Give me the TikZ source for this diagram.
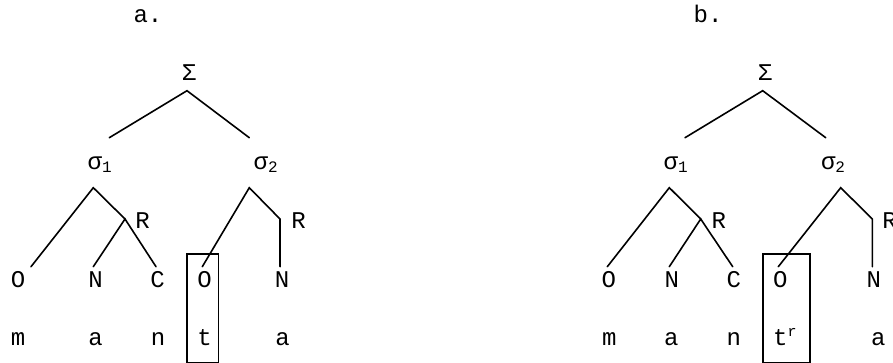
\documentclass[tikz,border=0pt]{standalone}
\usepackage{fontspec}
\setmainfont{Liberation Mono}
\newcommand{\mysub}[1]{\raisebox{-3pt}{\fontsize{16}{16}\selectfont #1}}
\newcommand{\mysup}[1]{\raisebox{9pt}{\fontsize{15}{15}\selectfont #1}}
\begin{document}
\begin{tikzpicture}[x=1pt,y=-1pt,
  lbl/.style={inner sep=0pt, anchor=base, font=\fontsize{24}{28}\selectfont},
  lblw/.style={lbl, anchor=base west},
  edge/.style={line width=1.6pt, line cap=round},
  hbox/.style={line width=1.6pt}]
\useasboundingbox (0,0) rectangle (893,363);
% ---------------- panel a ----------------
\node[lbl] (ta) at (148,23) {a.};
\node[lbl] (Sa) at (189,81) {Σ};
\node[lblw] (s1a) at (87.5,170) {σ\mysub{1}};
\node[lblw] (s2a) at (253.5,170) {σ\mysub{2}};
\node[lbl] (R1a) at (142.5,229) {R};
\node[lbl] (R2a) at (298.5,229) {R};
\node[lbl] (O1a) at (18,287) {O};
\node[lbl] (N1a) at (95.5,287) {N};
\node[lbl] (C1a) at (157.5,287) {C};
\node[lbl] (O2a) at (204.5,287) {O};
\node[lbl] (N2a) at (282,287) {N};
\node[lbl] (ma) at (18,345) {m};
\node[lbl] (a1a) at (95.5,345) {a};
\node[lbl] (na) at (158,345) {n};
\node[lbl] (tta) at (204.5,345) {t};
\node[lbl] (a2a) at (282.5,345) {a};
\coordinate (Sa-top) at (187,90.7);
\coordinate (Sa-l) at (109.3,137.7);
\coordinate (Sa-r) at (249.3,137.7);
\coordinate (s1a-top) at (93.3,187.7);
\coordinate (R1a-j) at (125,219);
\coordinate (O1a-e) at (31,266.7);
\coordinate (N1a-e) at (93.3,266.7);
\coordinate (C1a-e) at (156,266.7);
\coordinate (s2a-top) at (249.3,187.7);
\coordinate (R2a-j) at (280,219);
\coordinate (O2a-e) at (202.3,266.7);
\coordinate (N2a-e) at (280,266.7);
\draw[edge] (Sa-l) -- (Sa-top) -- (Sa-r);
\draw[edge] (O1a-e) -- (s1a-top) -- (R1a-j);
\draw[edge] (N1a-e) -- (R1a-j) -- (C1a-e);
\draw[edge] (O2a-e) -- (s2a-top) -- (R2a-j) -- (N2a-e);
\draw[hbox] (186.7,254) rectangle (218.3,362.3);
% ---------------- panel b ----------------
\node[lbl] (tb) at (708,23) {b.};
\node[lbl] (Sb) at (765,81) {Σ};
\node[lblw] (s1b) at (663.5,170) {σ\mysub{1}};
\node[lblw] (s2b) at (820.8,170) {σ\mysub{2}};
\node[lbl] (R1b) at (718.8,229) {R};
\node[lbl] (R2b) at (889.5,229) {R};
\node[lbl] (O1b) at (608.7,287) {O};
\node[lbl] (N1b) at (671.7,287) {N};
\node[lbl] (C1b) at (733.7,287) {C};
\node[lbl] (O2b) at (780.3,287) {O};
\node[lbl] (N2b) at (873.8,287) {N};
\node[lbl] (mb) at (609.2,345) {m};
\node[lbl] (a1b) at (671.3,345) {a};
\node[lbl] (nb) at (733.7,345) {n};
\node[lblw] (ttb) at (773,345) {t\mysup{r}};
\node[lbl] (a2b) at (878.3,345) {a};
\coordinate (Sb-top) at (762.7,90.7);
\coordinate (Sb-l) at (685,137.7);
\coordinate (Sb-r) at (825.7,137.7);
\coordinate (s1b-top) at (669.3,187.7);
\coordinate (R1b-j) at (700.7,219);
\coordinate (O1b-e) at (607.3,266.7);
\coordinate (N1b-e) at (669.3,266.7);
\coordinate (C1b-e) at (732.7,266.7);
\coordinate (s2b-top) at (840.7,187.7);
\coordinate (R2b-j) at (872.3,219);
\coordinate (O2b-e) at (778.3,266.7);
\coordinate (N2b-e) at (872.3,266.7);
\draw[edge] (Sb-l) -- (Sb-top) -- (Sb-r);
\draw[edge] (O1b-e) -- (s1b-top) -- (R1b-j);
\draw[edge] (N1b-e) -- (R1b-j) -- (C1b-e);
\draw[edge] (O2b-e) -- (s2b-top) -- (R2b-j) -- (N2b-e);
\draw[hbox] (762.7,254) rectangle (810,362.3);
\end{tikzpicture}
\end{document}
